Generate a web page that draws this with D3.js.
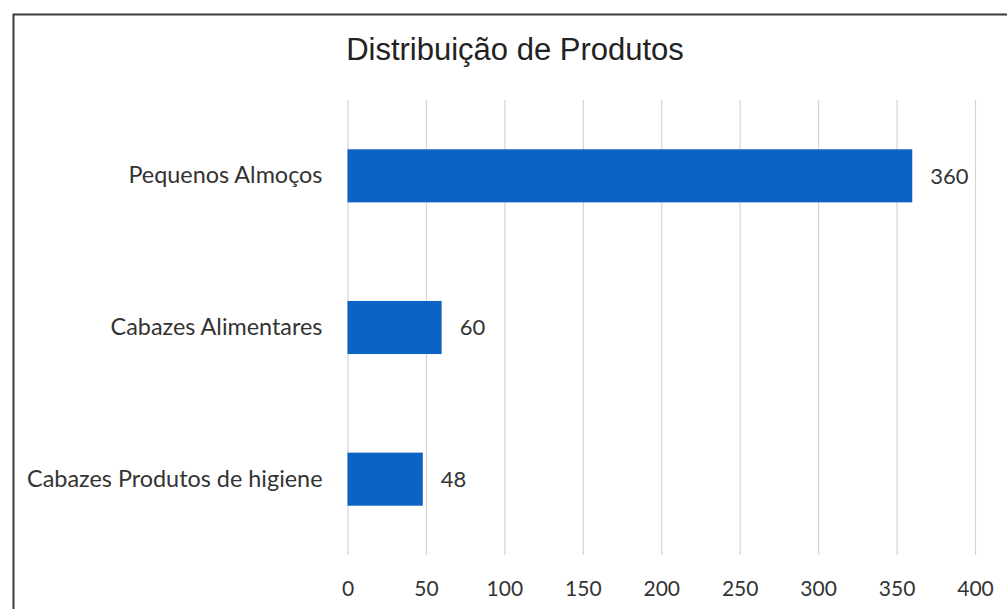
<!DOCTYPE html>
<html>
<head>
<meta charset="utf-8">
<script src="https://cdn.jsdelivr.net/npm/d3@7"></script>
<style>
  body { margin: 0; background: #fff; }
  svg { display: block; }
</style>
</head>
<body>
<svg id="chart" width="1007" height="609"></svg>
<script>
const categories = ["Pequenos Almoços", "Cabazes Alimentares", "Cabazes Produtos de higiene"];
const values = [360, 60, 48];
const xTicks = [0, 50, 100, 150, 200, 250, 300, 350, 400];
const title = "Distribuição de Produtos";

const svg = d3.select("#chart");
const W = 1007, H = 609;
const margin = { top: 100, right: 32, bottom: 54, left: 347.5 };

// outer frame (right and bottom edges fall outside the picture)
svg.append("rect")
    .attr("x", 13.5).attr("y", 14.5)
    .attr("width", W + 20).attr("height", H + 20)
    .attr("fill", "#fff")
    .attr("stroke", "#3a3a3a")
    .attr("stroke-width", 2);

const x = d3.scaleLinear()
    .domain([0, 400])
    .range([margin.left, W - margin.right]);

const y = d3.scaleBand()
    .domain(categories)
    .range([margin.top, H - margin.bottom])
    .paddingInner(0.65)
    .paddingOuter(0.325);

// gridlines
const grid = d3.axisBottom(x)
    .tickValues(xTicks)
    .tickSize(-(H - margin.bottom - margin.top))
    .tickFormat(() => "");

svg.append("g")
    .attr("transform", `translate(0,${H - margin.bottom})`)
    .call(grid)
    .call(g => g.select(".domain").remove())
    .call(g => g.selectAll("line").attr("stroke", "#d4d4d8").attr("stroke-width", 1.2));

// x tick labels
svg.append("g")
    .attr("transform", `translate(0,${H - margin.bottom})`)
    .call(d3.axisBottom(x).tickValues(xTicks).tickSize(0).tickPadding(26))
    .call(g => g.select(".domain").remove())
    .call(g => g.selectAll("text")
        .attr("font-family", "Lato, 'Open Sans', sans-serif")
        .attr("font-size", 21)
        .attr("fill", "#333"));

// bars
svg.append("g")
    .selectAll("rect")
    .data(categories)
    .join("rect")
    .attr("x", x(0))
    .attr("y", d => y(d))
    .attr("width", (d, i) => x(values[i]) - x(0))
    .attr("height", y.bandwidth())
    .attr("fill", "#0b63c3");

// value labels
svg.append("g")
    .selectAll("text")
    .data(categories)
    .join("text")
    .attr("x", (d, i) => x(values[i]) + 18)
    .attr("y", d => y(d) + y.bandwidth() / 2)
    .attr("dy", "0.36em")
    .attr("font-family", "Lato, 'Open Sans', sans-serif")
    .attr("font-size", 22)
    .attr("fill", "#333")
    .text((d, i) => values[i]);

// category labels
svg.append("g")
    .call(d3.axisLeft(y).tickSize(0).tickPadding(25))
    .attr("transform", `translate(${margin.left},0)`)
    .call(g => g.select(".domain").remove())
    .call(g => g.selectAll("text")
        .attr("font-family", "Lato, 'Open Sans', sans-serif")
        .attr("font-size", 23.4)
        .attr("fill", "#333"));

// title
svg.append("text")
    .attr("x", 515)
    .attr("y", 60)
    .attr("text-anchor", "middle")
    .attr("font-family", "'Liberation Sans', Arial, sans-serif")
    .attr("font-size", 31)
    .attr("fill", "#222")
    .text(title);
</script>
</body>
</html>
